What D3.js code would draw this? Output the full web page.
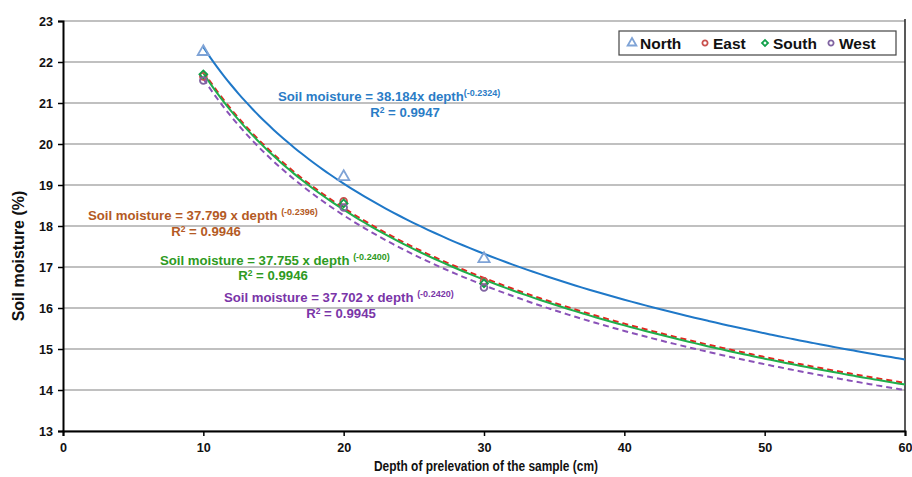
<!DOCTYPE html>
<html>
<head>
<meta charset="utf-8">
<script src="https://cdn.jsdelivr.net/npm/d3@7"></script>
<style>
  body { margin: 0; background: #fff; }
  svg text { font-family: "Liberation Sans", Arial, sans-serif; font-weight: bold; }
</style>
</head>
<body>
<svg id="chart" width="912" height="477"></svg>
<script>
// sample depths (cm)
var depths = [10, 20, 30];
var series = ['North', 'East', 'South', 'West'];
var northVals = [22.25, 19.2, 17.2];
var eastVals = [21.65, 18.6, 16.65];
var southVals = [21.7, 18.55, 16.6];
var westVals = [21.55, 18.45, 16.5];

// power trendlines: y = a * x^b
var coefA = [38.184, 37.799, 37.755, 37.702];
var coefB = [-0.2324, -0.2396, -0.2400, -0.2420];
var rSquared = ['0.9947', '0.9946', '0.9946', '0.9945'];

var xTicks = [0, 10, 20, 30, 40, 50, 60];
var yTicks = [13, 14, 15, 16, 17, 18, 19, 20, 21, 22, 23];

var values = [northVals, eastVals, southVals, westVals];
var lineColor = ['#1f78c8', '#e4251f', '#1fae4b', '#8a52b8'];
var markColor = ['#7fa3d6', '#c9504d', '#11a04a', '#8064a2'];
var textColor = ['#2a7cc6', '#b45a24', '#2e9a22', '#7a35a8'];
var dash = [null, '6,4', null, '6,4'];

var pL = 63, pR = 905, pT = 21, pB = 431;
var svg = d3.select('#chart');

var x = d3.scaleLinear().domain([0, 60]).range([pL, pR]);
var y = d3.scaleLinear().domain([13, 23]).range([pB, pT]);

// grid
svg.selectAll('.grid').data(yTicks).enter().append('line')
  .attr('x1', pL).attr('x2', pR)
  .attr('y1', function(d){ return y(d); }).attr('y2', function(d){ return y(d); })
  .style('stroke', '#ababab').style('stroke-width', 1.5);

// right border
svg.append('line').attr('x1', pR).attr('x2', pR).attr('y1', pT - 2).attr('y2', pB)
  .style('stroke', '#222').style('stroke-width', 1.5);

// axes
var yAxis = svg.append('g').attr('transform', 'translate(' + pL + ',0)')
  .call(d3.axisLeft(y).tickValues(yTicks).tickSize(5).tickFormat(d3.format('d')));
var xAxis = svg.append('g').attr('transform', 'translate(0,' + pB + ')')
  .call(d3.axisBottom(x).tickValues(xTicks).tickSize(5).tickFormat(d3.format('d')));
[xAxis, yAxis].forEach(function(a){
  a.select('.domain').style('stroke', '#000').style('stroke-width', 2);
  a.selectAll('.tick line').style('stroke', '#000').style('stroke-width', 1.5);
  a.selectAll('.tick text').style('font-size', '13px').style('fill', '#111')
    .attr('textLength', 14).attr('lengthAdjust', 'spacingAndGlyphs');
});
yAxis.selectAll('.tick text').attr('x', -10);
xAxis.selectAll('.tick text').attr('y', 12);
xAxis.selectAll('.tick text').filter(function(d){ return d === 0; }).attr('textLength', 7);

// axis titles
svg.append('text')
  .attr('x', (pL + pR) / 2 + 2).attr('y', 471)
  .attr('text-anchor', 'middle').style('font-size', '14px').style('fill', '#111')
  .attr('textLength', 224).attr('lengthAdjust', 'spacingAndGlyphs')
  .text('Depth of  prelevation of the sample (cm)');
svg.append('text')
  .attr('transform', 'translate(24,' + ((pT + pB) / 2 + 30) + ') rotate(-90)')
  .attr('text-anchor', 'middle').style('font-size', '16px').style('fill', '#111')
  .text('Soil moisture (%)');

// trendlines
var curveX = d3.range(10, 60.01, 0.5);
var line = d3.line().x(function(d){ return x(d[0]); }).y(function(d){ return y(d[1]); }).curve(d3.curveMonotoneX);
series.forEach(function(s, i){
  var pts = curveX.map(function(d){ return [d, coefA[i] * Math.pow(d, coefB[i])]; });
  svg.append('path').datum(pts).attr('d', line)
    .style('fill', 'none').style('stroke', lineColor[i]).style('stroke-width', 2)
    .style('stroke-dasharray', dash[i]);
});

// markers (diamond = square turned 45deg)
var shapes = [d3.symbolTriangle, d3.symbolCircle, d3.symbolSquare, d3.symbolCircle];
var rot = [0, 0, 45, 0];
function marker(sel, i, cx, cy, k) {
  var sizes = [55, 36, 30, 36];
  sel.append('path').attr('d', d3.symbol().type(shapes[i]).size(sizes[i] * k)())
    .attr('transform', 'translate(' + cx + ',' + cy + ') rotate(' + rot[i] + ')')
    .style('fill', 'none').style('stroke', markColor[i]).style('stroke-width', 1.8);
}
series.forEach(function(s, i){
  values[i].forEach(function(v, j){ marker(svg, i, x(depths[j]), y(v), 1); });
});

// equation labels
var eqPos = [[278, 101, 405, 117], [88, 220, 206, 236], [160, 265, 273, 280], [224, 302, 341, 318]];
series.forEach(function(s, i){
  var t = svg.append('text').attr('x', eqPos[i][0]).attr('y', eqPos[i][1])
    .style('font-size', '13.2px').style('fill', textColor[i]);
  var mid = i === 0 ? 'x depth' : ' x depth ';
  t.append('tspan').text('Soil moisture = ' + coefA[i].toFixed(3) + mid);
  t.append('tspan').attr('dy', -5).style('font-size', '9px').text('(' + coefB[i].toFixed(4) + ')');
  var r = svg.append('text').attr('x', eqPos[i][2]).attr('y', eqPos[i][3]).attr('text-anchor', 'middle')
    .style('font-size', '13.2px').style('fill', textColor[i]);
  r.append('tspan').text('R');
  r.append('tspan').attr('dy', -4).style('font-size', '8.5px').text('2');
  r.append('tspan').attr('dy', 4).text(' = ' + rSquared[i]);
});

// legend
var lg = svg.append('g');
lg.append('rect').attr('x', 619).attr('y', 31).attr('width', 277).attr('height', 24)
  .style('fill', '#fff').style('stroke', '#444').style('stroke-width', 1.2);
var legX = [632, 705, 765, 831];
series.forEach(function(s, i){
  marker(lg, i, legX[i], 43, 0.6);
  lg.append('text').attr('x', legX[i] + 8).attr('y', 49).style('font-size', '15.5px').style('fill', '#111').text(s);
});
</script>
</body>
</html>
